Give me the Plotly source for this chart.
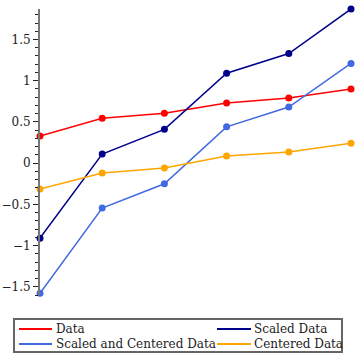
import plotly.graph_objects as go

x_idx = [0, 1, 2, 3, 4, 5]
data_vals = [0.33, 0.545, 0.605, 0.73, 0.79, 0.90]
scaled_vals = [-0.91, 0.11, 0.41, 1.09, 1.33, 1.87]
scaled_centered_vals = [-1.58, -0.545, -0.25, 0.44, 0.68, 1.21]
centered_vals = [-0.315, -0.12, -0.06, 0.085, 0.135, 0.24]

series_names = ["Data", "Scaled Data", "Scaled and Centered Data", "Centered Data"]
series_values = [data_vals, scaled_vals, scaled_centered_vals, centered_vals]
series_colors = ["#FF0000", "#00008B", "#4169E1", "#FFA500"]

FONT = "DejaVu Serif, Liberation Serif, serif"
TXT = "#222222"

# plot-area pixel box in the window
PL, PR, PT, PB = 40, 351, 9, 295
W = H = 355


def px(x):
    return (x - PL) / (PR - PL)


def py(y):
    return (PB - y) / (PB - PT)


fig = go.Figure()
for name, vals, color in zip(series_names, series_values, series_colors):
    fig.add_trace(go.Scatter(
        x=x_idx, y=vals, name=name, mode="lines+markers",
        line=dict(color=color, width=1.5),
        marker=dict(color=color, size=7),
        cliponaxis=False, showlegend=False,
    ))

# legend drawn as a 2x2 grid inside a bordered box
shapes = [dict(type="rect", xref="paper", yref="paper",
               x0=px(14), x1=px(342), y0=py(352), y1=py(319),
               line=dict(color="#666666", width=2), fillcolor="white", layer="above")]
annotations = []
cols = [(19, 52, 55), (217, 251, 253)]
rows = [329, 344]
for i, (name, color) in enumerate(zip(series_names, series_colors)):
    r, c = divmod(i, 2)
    x0, x1, xt = cols[c]
    yy = rows[r]
    shapes.append(dict(type="line", xref="paper", yref="paper",
                       x0=px(x0), x1=px(x1), y0=py(yy), y1=py(yy),
                       line=dict(color=color, width=2), layer="above"))
    annotations.append(dict(xref="paper", yref="paper", x=px(xt), y=py(yy),
                            xanchor="left", yanchor="middle", showarrow=False,
                            text=name, borderpad=0,
                            font=dict(family=FONT, size=12, color=TXT)))

fig.update_layout(
    width=W, height=H,
    margin=dict(l=PL, r=W - PR, t=PT, b=H - PB, autoexpand=False),
    paper_bgcolor="white", plot_bgcolor="white",
    font=dict(family=FONT, size=12, color=TXT),
    xaxis=dict(visible=False, range=[0, 5], automargin=False),
    yaxis=dict(
        range=[-1.6, 1.87], showgrid=False, zeroline=False, automargin=False,
        showline=True, linecolor="#777777", linewidth=2,
        ticks="outside", ticklen=5, tickcolor=TXT, tickwidth=1,
        tickvals=[-1.5, -1, -0.5, 0, 0.5, 1, 1.5],
        ticktext=["\u22121.5", "\u22121", "\u22120.5", "0", "0.5", "1", "1.5"],
        minor=dict(dtick=0.1, tick0=0, ticks="outside", ticklen=3, tickcolor=TXT),
        tickfont=dict(family=FONT, size=12, color=TXT),
    ),
    shapes=shapes,
    annotations=annotations,
    showlegend=False,
)

fig.write_html("out.html", config={"displayModeBar": False},
               post_script="document.body.style.margin='0px';")
